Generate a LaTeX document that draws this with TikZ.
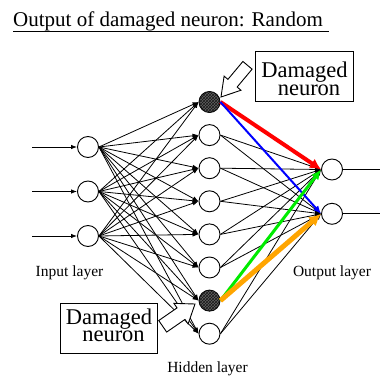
\documentclass[tikz,border=0pt]{standalone}
\usepackage{fontspec}
\setmainfont{Liberation Serif}
\usetikzlibrary{arrows.meta,calc,patterns}
\definecolor{linkred}{RGB}{255,0,0}
\definecolor{linkblue}{RGB}{0,0,255}
\definecolor{linkgreen}{RGB}{0,235,0}
\definecolor{linkorange}{RGB}{255,165,0}
\begin{document}
\begin{tikzpicture}[x=1pt,y=-1pt,
  neuron/.style={circle,draw,line width=0.9pt,fill=white,minimum size=21pt,inner sep=0pt},
  damaged/.style={neuron,fill=black!62,postaction={pattern=crosshatch,pattern color=black!90}},
  link/.style={line width=0.8pt,-{Latex[length=6pt,width=4.5pt]}},
  plainlink/.style={line width=0.8pt},
  layername/.style={font=\fontsize{15.5}{18}\selectfont,anchor=base,inner sep=0pt},
  calloutbox/.style={draw,line width=0.9pt,fill=white,inner sep=0pt,minimum height=50pt},
  callouttext/.style={font=\fontsize{22.5}{17.7}\selectfont,align=center,inner sep=0pt},
  calloutarrow/.style={draw,line width=0.9pt,fill=white,line join=miter},
]
\useasboundingbox (0,0) rectangle (380,377);

% title with underline
\node[anchor=base west,inner sep=0pt,font=\fontsize{21}{24}\selectfont] (title) at (13,26.7)
  {Output of damaged neuron: Random};
\draw[line width=0.9pt] ($(title.base west)+(0,5)$) -- ($(title.base east)+(6,5)$);

% neurons
\foreach \i/\y in {1/147,2/191.5,3/236}
  \node[neuron] (i\i) at (88,\y) {};
\foreach \j/\s in {1/damaged,2/neuron,3/neuron,4/neuron,5/neuron,6/neuron,7/damaged,8/neuron}
  \node[\s] (h\j) at (209.5,{102+33.1*(\j-1)}) {};
\node[neuron] (o1) at (332,169.5) {};
\node[neuron] (o2) at (332,213.8) {};

% external inputs and outputs
\foreach \i/\y in {1/147,2/191.5,3/236}{
  \coordinate (in\i) at (32,\y);
  \draw[link] (in\i) -- (i\i.west);
}
\coordinate (out1) at (380,169.5);
\coordinate (out2) at (380,213.8);
\draw[plainlink] (o1.east) -- (out1);
\draw[plainlink] (o2.east) -- (out2);

% input -> hidden
\foreach \i in {1,2,3}
  \foreach \j in {1,...,8}
    \draw[link] (i\i.east) -- (h\j.west);

% hidden -> output (intact neurons)
\foreach \j in {2,3,4,5,6,8}
  \foreach \k in {1,2}
    \draw[link] (h\j.east) -- (o\k.west);

% outputs of the damaged neurons
\draw[line width=4pt,linkred,-{Latex[length=11pt,width=11pt]}] (h1.east) -- (o1.west);
\draw[line width=2pt,linkblue,-{Latex[length=8pt,width=7pt]}] (h1.east) -- (o2.west);
\draw[line width=3pt,linkgreen,-{Latex[length=10pt,width=9pt]}] (h7.east) -- (o1.west);
\draw[line width=5pt,linkorange,-{Latex[length=12pt,width=12pt]}] (h7.east) -- (o2.west);

% callout arrows
\coordinate (ta1) at (247.5,65.3);
\coordinate (tp1) at (221,97);
\coordinate (hb1) at ($(tp1)!18pt!(ta1)$);
\draw[calloutarrow] ($(ta1)!6pt!90:(tp1)$) -- ($(hb1)!6pt!90:(tp1)$) -- ($(hb1)!11pt!90:(tp1)$)
  -- (tp1) -- ($(hb1)!11pt!-90:(tp1)$) -- ($(hb1)!6pt!-90:(tp1)$) -- ($(ta1)!6pt!-90:(tp1)$) -- cycle;

\coordinate (ta2) at (162.7,326.3);
\coordinate (tp2) at (195,304);
\coordinate (hb2) at ($(tp2)!17pt!(ta2)$);
\draw[calloutarrow] ($(ta2)!7pt!90:(tp2)$) -- ($(hb2)!7pt!90:(tp2)$) -- ($(hb2)!12.5pt!90:(tp2)$)
  -- (tp2) -- ($(hb2)!12.5pt!-90:(tp2)$) -- ($(hb2)!7pt!-90:(tp2)$) -- ($(ta2)!7pt!-90:(tp2)$) -- cycle;

% callout boxes
\node[calloutbox,minimum width=98pt] (box1) at (304,76) {};
\node[callouttext] (box1t) at (304.5,78.7) {Damaged\\\hspace*{9pt}neuron};
\node[calloutbox,minimum width=97pt] (box2) at (108.7,328.3) {};
\node[callouttext] (box2t) at (109,325.4) {Damaged\\\hspace*{9pt}neuron};

% layer names
\node[layername] (inlabel) at (69.5,276.5) {Input layer};
\node[layername] (outlabel) at (332,276) {Output layer};
\node[layername] (hidlabel) at (207.5,372) {Hidden layer};
\end{tikzpicture}
\end{document}
